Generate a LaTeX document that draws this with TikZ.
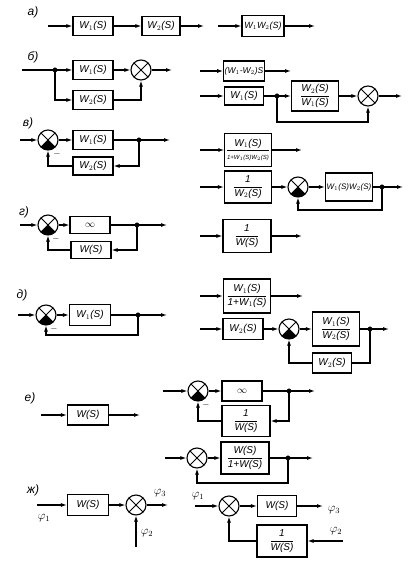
\documentclass[tikz,border=0pt]{standalone}
\usepackage{fontspec}
\setmainfont{Liberation Sans}
\usetikzlibrary{arrows.meta}
\tikzset{
  every node/.style={font=\itshape\fontsize{10}{12}\selectfont},
  block/.style={draw,line width=1.1pt,minimum width=40pt,minimum height=19pt,inner sep=1pt},
  sum/.style={draw,circle,line width=1.1pt,minimum size=20pt,inner sep=0pt,
    path picture={\draw[line width=1pt]
      (path picture bounding box.north west) -- (path picture bounding box.south east)
      (path picture bounding box.north east) -- (path picture bounding box.south west);}},
  negsum/.style={sum,
    path picture={\fill (path picture bounding box.center) -- (path picture bounding box.south west)
      -- (path picture bounding box.south east) -- cycle;
      \draw[line width=1pt]
      (path picture bounding box.north west) -- (path picture bounding box.south east)
      (path picture bounding box.north east) -- (path picture bounding box.south west);}},
  wire/.style={line width=1.1pt},
  arr/.style={wire,-{Latex[length=6pt,width=4pt]}},
  junction/.style={circle,fill,draw,inner sep=0pt,minimum size=4.5pt},
  tag/.style={font=\itshape\fontsize{12}{14}\selectfont},
  minus/.style={font=\small,inner sep=0pt},
  phi/.style={font=\fontsize{12}{14}\selectfont},
}
\newcommand{\tfn}[1]{W$_{#1}$(S)}
\newcommand{\fr}[2]{$\displaystyle\frac{\mbox{#1}}{\mbox{#2}}$}

\begin{document}
\begin{tikzpicture}[x=1pt,y=-1pt]
\useasboundingbox (0,0) rectangle (418,567);

\node[tag] (la) at (33,12) {а)};
\coordinate (a-in) at (48,26);
\node[block] (a1) at (93,26) {\tfn1};
\node[block,minimum width=38pt] (a2) at (161,26) {\tfn2};
\coordinate (a-out) at (204,26);
\draw[arr] (a-in) -- (a1);
\draw[arr] (a1) -- (a2);
\draw[arr] (a2) -- (a-out);
\coordinate (a-in2) at (218,26);
\node[block,minimum width=42pt,minimum height=21pt,font=\itshape\fontsize{9}{11}\selectfont] (a3) at (263,26) {W$_1$W$_2$(S)};
\coordinate (a-out2) at (315,26);
\draw[arr] (a-in2) -- (a3);
\draw[arr] (a3) -- (a-out2);

\node[tag] (lb) at (33,57) {б)};
\coordinate (b-in) at (22,70);
\node[junction] (b-j) at (55,70) {};
\node[block] (b1) at (93,70) {\tfn1};
\node[block] (b2) at (93,100) {\tfn2};
\node[sum] (b-s) at (141,70) {};
\coordinate (b-out) at (172,70);
\draw[wire] (b-in) -- (b-j);
\draw[arr] (b-j) -- (b1);
\draw[arr] (b1) -- (b-s);
\draw[arr] (b-s) -- (b-out);
\draw[arr] (b-j) |- (b2);
\draw[arr] (b2) -| (b-s);
\coordinate (b-in2) at (200,71);
\node[block,minimum width=39pt,minimum height=20pt,font=\itshape\fontsize{8.5}{10}\selectfont] (b3) at (244,71) {(W$_1$-W$_2$)S};
\coordinate (b-out2) at (291,71);
\draw[arr] (b-in2) -- (b3);
\draw[arr] (b3) -- (b-out2);
\coordinate (b-in3) at (200,96);
\node[block,minimum width=39pt,minimum height=18pt] (b4) at (244,96) {\tfn1};
\node[junction] (b-j2) at (277,96) {};
\node[block,minimum width=47pt,minimum height=30pt] (b5) at (315,96) {\fr{\tfn2}{\tfn1}};
\node[sum] (b-s2) at (368,96) {};
\coordinate (b-out3) at (402,96);
\draw[arr] (b-in3) -- (b4);
\draw[wire] (b4) -- (b-j2);
\draw[arr] (b-j2) -- (b5);
\draw[arr] (b5) -- (b-s2);
\draw[arr] (b-s2) -- (b-out3);
\draw[arr] (b-j2) -- ++(0,26) -| (b-s2);

\node[tag] (lv) at (28,123) {в)};
\coordinate (v-in) at (20,140);
\node[negsum] (v-s) at (48,140) {};
\node[block] (v1) at (93,140) {\tfn1};
\node[junction] (v-j) at (139,140) {};
\coordinate (v-out) at (170,140);
\node[block,minimum height=18pt] (v2) at (93,166) {\tfn2};
\node[minus] (v-m) at (57,154) {$-$};
\draw[arr] (v-in) -- (v-s);
\draw[arr] (v-s) -- (v1);
\draw[wire] (v1) -- (v-j);
\draw[arr] (v-j) -- (v-out);
\draw[arr] (v-j) |- (v2);
\draw[arr] (v2) -| (v-s);
\coordinate (v-in2) at (200,150);
\node[block,minimum width=46pt,minimum height=33pt] (v3) at (248,150)
  {\fr{\tfn1}{\fontsize{6}{7}\selectfont 1+W$_1$(S)W$_2$(S)}};
\coordinate (v-out2) at (302,150);
\draw[arr] (v-in2) -- (v3);
\draw[arr] (v3) -- (v-out2);
\coordinate (v-in3) at (200,187);
\node[block,minimum width=47pt,minimum height=32pt] (v4) at (248,187) {\fr{1}{\tfn2}};
\node[negsum] (v-s2) at (298,187) {};
\node[block,minimum width=47pt,minimum height=28pt,font=\itshape\fontsize{8}{10}\selectfont] (v5) at (349,187) {W$_1$(S)W$_2$(S)};
\node[junction] (v-j2) at (382,187) {};
\coordinate (v-out3) at (403,187);
\draw[arr] (v-in3) -- (v4);
\draw[arr] (v4) -- (v-s2);
\draw[arr] (v-s2) -- (v5);
\draw[wire] (v5) -- (v-j2);
\draw[arr] (v-j2) -- (v-out3);
\draw[arr] (v-j2) -- ++(0,23) -| (v-s2);

\node[tag] (lg) at (24,212) {г)};
\coordinate (g-in) at (20,225);
\node[negsum] (g-s) at (48,225) {};
\node[block,minimum height=17pt] (g1) at (90,225) {$\infty$};
\node[junction] (g-j) at (137,225) {};
\coordinate (g-out) at (167,225);
\node[block,minimum height=17pt] (g2) at (91,250) {W(S)};
\node[minus] (g-m) at (56,239) {$-$};
\draw[arr] (g-in) -- (g-s);
\draw[arr] (g-s) -- (g1);
\draw[wire] (g1) -- (g-j);
\draw[arr] (g-j) -- (g-out);
\draw[arr] (g-j) |- (g2);
\draw[arr] (g2) -| (g-s);
\coordinate (g-in2) at (200,236);
\node[block,minimum width=48pt,minimum height=33pt] (g3) at (247,236) {\fr{1}{W(S)}};
\coordinate (g-out2) at (302,236);
\draw[arr] (g-in2) -- (g3);
\draw[arr] (g3) -- (g-out2);

\node[tag] (ld) at (22,295) {д)};
\coordinate (d-in) at (18,315);
\node[negsum] (d-s) at (46,315) {};
\node[block,minimum width=41pt,minimum height=21pt] (d1) at (90,315) {\tfn1};
\node[junction] (d-j) at (138,315) {};
\coordinate (d-out) at (167,315);
\node[minus] (d-m) at (54,329) {$-$};
\draw[arr] (d-in) -- (d-s);
\draw[arr] (d-s) -- (d1);
\draw[wire] (d1) -- (d-j);
\draw[arr] (d-j) -- (d-out);
\draw[arr] (d-j) -- ++(0,20) -| (d-s);
\coordinate (d-in2) at (200,296);
\node[block,minimum width=47pt,minimum height=34pt] (d2) at (247,296) {\fr{\tfn1}{1+W$_1$(S)}};
\coordinate (d-out2) at (303,296);
\draw[arr] (d-in2) -- (d2);
\draw[arr] (d2) -- (d-out2);
\coordinate (d-in3) at (200,329);
\node[block,minimum width=40pt,minimum height=21pt] (d3) at (243,329) {\tfn2};
\node[negsum] (d-s2) at (289,329) {};
\node[block,minimum width=47pt,minimum height=34pt] (d4) at (336,329) {\fr{\tfn1}{\tfn2}};
\node[junction] (d-j2) at (370,329) {};
\coordinate (d-out3) at (389,329);
\node[block,minimum width=39pt,minimum height=20pt] (d5) at (332,363) {\tfn2};
\draw[arr] (d-in3) -- (d3);
\draw[arr] (d3) -- (d-s2);
\draw[arr] (d-s2) -- (d4);
\draw[wire] (d4) -- (d-j2);
\draw[arr] (d-j2) -- (d-out3);
\draw[wire] (d-j2) |- (d5);
\draw[arr] (d5) -| (d-s2);

\node[tag] (le) at (30,398) {е)};
\coordinate (e-in) at (41,415);
\node[block,minimum width=41pt,minimum height=20pt] (e1) at (88,415) {W(S)};
\coordinate (e-out) at (140,415);
\draw[arr] (e-in) -- (e1);
\draw[arr] (e1) -- (e-out);
\coordinate (e-in2) at (163,391);
\node[negsum] (e-s) at (198,391) {};
\node[block,minimum width=40pt,minimum height=20pt] (e2) at (242,391) {$\infty$};
\node[junction] (e-j) at (289,391) {};
\coordinate (e-out2) at (315,391);
\node[block,minimum width=48pt,minimum height=31pt] (e3) at (246,421) {\fr{1}{W(S)}};
\node[minus] (e-m) at (206,405) {$-$};
\draw[arr] (e-in2) -- (e-s);
\draw[arr] (e-s) -- (e2);
\draw[wire] (e2) -- (e-j);
\draw[arr] (e-j) -- (e-out2);
\draw[arr] (e-j) |- (e3);
\draw[arr] (e3) -| (e-s);
\coordinate (e-in3) at (165,458);
\node[sum] (e-s2) at (197,458) {};
\node[block,minimum width=48pt,minimum height=32pt] (e4) at (245,458) {\fr{W(S)}{1+W(S)}};
\node[junction] (e-j2) at (288,458) {};
\coordinate (e-out3) at (313,458);
\draw[arr] (e-in3) -- (e-s2);
\draw[arr] (e-s2) -- (e4);
\draw[wire] (e4) -- (e-j2);
\draw[arr] (e-j2) -- (e-out3);
\draw[arr] (e-j2) -- ++(0,25) -| (e-s2);

\node[tag] (lz) at (33,490) {ж)};
\coordinate (z-in) at (37,505);
\node[block,minimum width=41pt,minimum height=21pt] (z1) at (88,505) {W(S)};
\node[sum] (z-s) at (136,505) {};
\coordinate (z-out) at (168,505);
\coordinate (z-in2) at (136,547);
\node[phi] (z-p1) at (44,518) {$\varphi_1$};
\node[phi] (z-p3) at (160,493) {$\varphi_3$};
\node[phi] (z-p2) at (147,533) {$\varphi_2$};
\draw[arr] (z-in) -- (z1);
\draw[arr] (z1) -- (z-s);
\draw[arr] (z-s) -- (z-out);
\draw[arr] (z-in2) -- (z-s);
\coordinate (z-in3) at (195,506);
\node[sum] (z-s2) at (229,506) {};
\node[block,minimum width=39pt,minimum height=21pt] (z2) at (277,506) {W(S)};
\coordinate (z-out2) at (323,506);
\coordinate (z-in4) at (343,541);
\node[block,minimum width=50pt,minimum height=32pt] (z3) at (282,541) {\fr{1}{W(S)}};
\node[phi] (z-p4) at (198,496) {$\varphi_1$};
\node[phi] (z-p5) at (334,510) {$\varphi_3$};
\node[phi] (z-p6) at (336,531) {$\varphi_2$};
\draw[arr] (z-in3) -- (z-s2);
\draw[arr] (z-s2) -- (z2);
\draw[arr] (z2) -- (z-out2);
\draw[arr] (z-in4) -- (z3);
\draw[arr] (z3) -| (z-s2);
\end{tikzpicture}
\end{document}
